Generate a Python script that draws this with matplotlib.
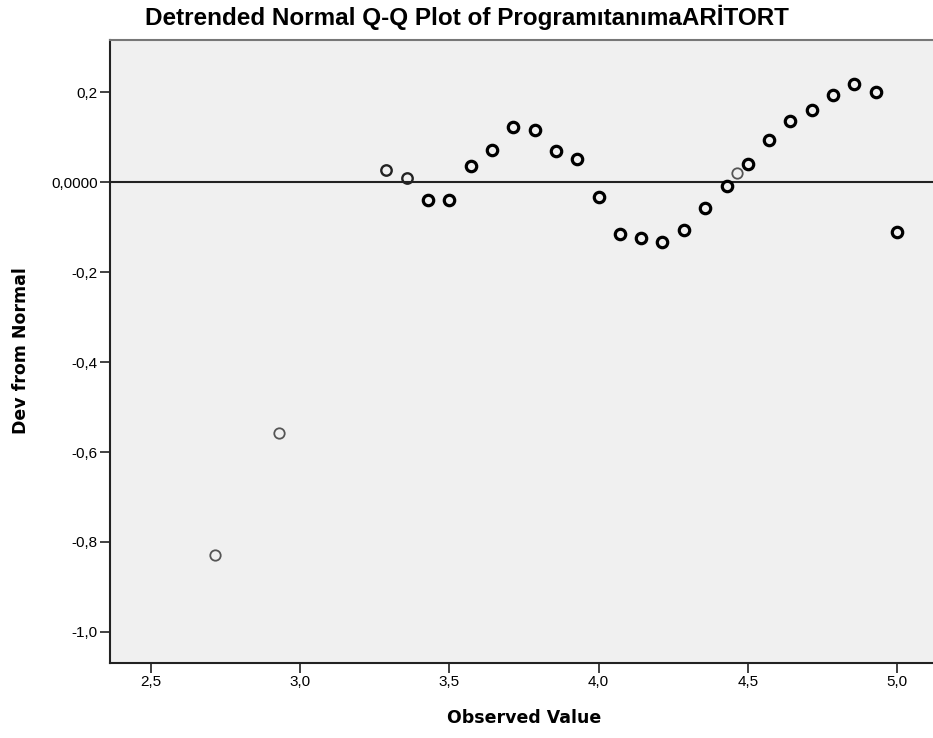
import matplotlib
matplotlib.use("Agg")
import matplotlib.pyplot as plt
from matplotlib.ticker import FixedLocator

plt.rcParams['font.family'] = ['Liberation Sans', 'DejaVu Sans']

# observed values (averages of 7 items) and deviation from normal
obs_value = [2.714, 2.929, 3.286, 3.357, 3.429, 3.500, 3.571, 3.643, 3.714,
             3.786, 3.857, 3.929, 4.000, 4.071, 4.143, 4.214, 4.286, 4.357,
             4.429, 4.464, 4.500, 4.571, 4.643, 4.714, 4.786, 4.857, 4.929, 5.000]
dev_normal = [-0.829, -0.558, 0.027, 0.008, -0.041, -0.040, 0.036, 0.071, 0.122,
              0.115, 0.068, 0.052, -0.034, -0.116, -0.124, -0.133, -0.107, -0.057,
              -0.008, 0.020, 0.039, 0.093, 0.136, 0.160, 0.193, 0.218, 0.199, -0.111]
# how dark each circle looks (overlapping cases make it heavier)
overlap = [1, 1, 2, 2, 3, 3, 3, 3, 3,
           3, 3, 3, 3, 3, 3, 3, 3, 3,
           3, 1, 3, 3, 3, 3, 3, 3, 3, 3]

y_ticks = [-1.0, -0.8, -0.6, -0.4, -0.2, 0.0, 0.2]
y_labels = ['-1,0', '-0,8', '-0,6', '-0,4', '-0,2', '0,0000', '0,2']
x_ticks = [2.5, 3.0, 3.5, 4.0, 4.5, 5.0]
x_labels = ['2,5', '3,0', '3,5', '4,0', '4,5', '5,0']

edge_col = {1: '#555555', 2: '#222222', 3: 'black'}
edge_w = {1: 1.3, 2: 1.7, 3: 2.3}

fig = plt.figure(figsize=(9.33, 7.38), dpi=100)
ax = fig.add_axes([110/933, 1-663/738, 830/933, 623/738])
ax.set_facecolor('#f0f0f0')

ax.axhline(0, color='#222222', lw=1.5, zorder=1)

for x, y, k in zip(obs_value, dev_normal, overlap):
    ax.plot(x, y, 'o', ms=7.5, mfc='none', mec=edge_col[k], mew=edge_w[k], zorder=1+k)

ax.set_xlim(2.3626, 5.144)
ax.set_ylim(-1.0689, 0.3156)
ax.xaxis.set_major_locator(FixedLocator(x_ticks))
ax.yaxis.set_major_locator(FixedLocator(y_ticks))
ax.set_xticklabels(x_labels, fontsize=11)
ax.set_yticklabels(y_labels, fontsize=11)
ax.tick_params(direction='out', length=7, width=1.3, color='#333333', pad=2)

for side in ['left', 'bottom']:
    ax.spines[side].set_color('#222222')
    ax.spines[side].set_linewidth(1.5)
ax.spines['top'].set_color('#777777')
ax.spines['top'].set_linewidth(1.5)
ax.spines['right'].set_visible(False)

fig.text(467/933, 1-17/738, 'Detrended Normal Q-Q Plot of ProgramıtanımaARİTORT',
         ha='center', va='center', fontsize=17.5, fontweight='bold')
fig.text(524/933, 1-718/738, 'Observed Value', ha='center', va='center',
         fontsize=12.5, fontweight='bold', family='DejaVu Sans')
fig.text(21/933, 1-351/738, 'Dev from Normal', ha='center', va='center',
         rotation=90, fontsize=12.5, fontweight='bold', family='DejaVu Sans')

fig.savefig('out.png', dpi=100)
